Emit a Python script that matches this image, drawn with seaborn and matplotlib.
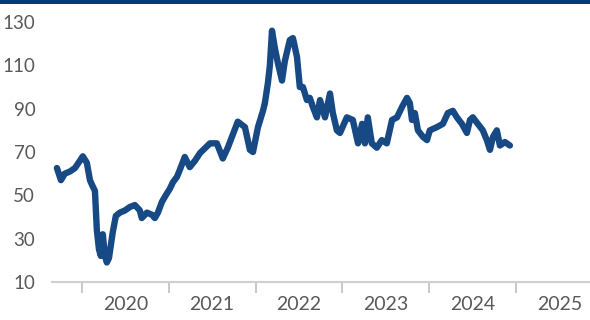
import matplotlib
matplotlib.use("Agg")
import matplotlib.pyplot as plt
from matplotlib.patches import Rectangle
import pandas as pd
import seaborn as sns

dates = [
    "2019-09-18", "2019-10-05", "2019-10-21", "2019-11-12", "2019-12-03", "2019-12-24",
    "2020-01-05", "2020-01-22", "2020-02-04", "2020-02-12", "2020-02-25", "2020-03-04",
    "2020-03-13", "2020-03-21", "2020-03-29", "2020-04-07", "2020-04-15", "2020-04-24",
    "2020-05-02", "2020-05-10", "2020-05-23", "2020-06-09", "2020-06-30", "2020-07-21",
    "2020-08-11", "2020-09-01", "2020-09-09", "2020-10-01", "2020-10-22", "2020-11-03",
    "2020-11-16", "2020-12-03", "2020-12-19", "2021-01-05", "2021-01-18", "2021-02-04",
    "2021-02-16", "2021-03-09", "2021-03-30", "2021-04-21", "2021-05-12", "2021-06-23",
    "2021-07-22", "2021-08-16", "2021-09-06", "2021-10-18", "2021-11-17", "2021-12-08",
    "2021-12-21", "2022-01-11", "2022-02-01", "2022-02-09", "2022-02-22", "2022-03-02",
    "2022-03-11", "2022-03-23", "2022-04-05", "2022-04-22", "2022-05-04", "2022-05-25",
    "2022-06-07", "2022-06-24", "2022-07-06", "2022-07-19", "2022-08-05", "2022-08-17",
    "2022-08-30", "2022-09-16", "2022-09-29", "2022-10-20", "2022-11-10", "2022-11-22",
    "2022-12-09", "2022-12-22", "2023-01-20", "2023-02-14", "2023-03-08", "2023-03-25",
    "2023-04-06", "2023-04-18", "2023-05-05", "2023-05-26", "2023-06-16", "2023-07-07",
    "2023-07-29", "2023-08-19", "2023-09-09", "2023-09-30", "2023-10-12", "2023-10-21",
    "2023-11-02", "2023-11-15", "2023-12-06", "2023-12-23", "2024-01-04", "2024-02-03",
    "2024-02-28", "2024-03-20", "2024-04-10", "2024-04-27", "2024-05-18", "2024-06-08",
    "2024-06-21", "2024-07-03", "2024-07-24", "2024-08-14", "2024-08-31", "2024-09-13",
    "2024-09-26", "2024-10-12", "2024-10-25", "2024-11-15", "2024-12-06",
]
values = [
    62.6, 57.0, 60.0, 61.0, 62.6, 66.0,
    68.0, 65.0, 57.0, 55.0, 52.0, 34.0,
    25.0, 22.0, 32.0, 22.0, 19.0, 21.0,
    27.0, 33.0, 40.5, 42.0, 43.0, 44.6,
    45.5, 43.0, 39.5, 42.0, 41.0, 39.5,
    42.0, 47.0, 50.0, 53.0, 56.0, 58.5,
    61.7, 67.7, 63.0, 66.0, 69.5, 74.0,
    74.0, 67.0, 72.0, 84.0, 81.5, 71.0,
    70.0, 81.5, 89.0, 92.6, 102.0, 110.0,
    126.0, 118.0, 111.0, 103.0, 112.0, 121.7,
    122.6, 114.0, 100.0, 100.0, 94.0, 95.0,
    90.8, 86.0, 94.0, 86.0, 97.0, 88.0,
    80.0, 78.8, 86.0, 84.8, 74.0, 83.0,
    74.0, 86.0, 74.0, 72.0, 75.5, 74.0,
    84.8, 86.0, 90.8, 95.0, 92.6, 84.8,
    88.0, 80.0, 77.0, 75.5, 80.0, 81.5,
    83.0, 88.0, 89.0, 86.0, 83.0, 78.8,
    84.8, 86.0, 83.0, 80.0, 75.5, 71.0,
    77.0, 80.0, 73.0, 74.6, 73.0,
]
year_labels = ["2020", "2021", "2022", "2023", "2024", "2025"]
y_ticks = [10, 30, 50, 70, 90, 110, 130]

df = pd.DataFrame({"date": pd.to_datetime(dates), "value": values})

sns.set_style("white")
plt.rcParams["font.family"] = ["Lato", "DejaVu Sans"]

fig = plt.figure(figsize=(5.9, 3.2), dpi=100)
ax = fig.add_axes([0.088, 0.119, 0.912, 0.812])

sns.lineplot(data=df, x="date", y="value", ax=ax, color="#174A84", linewidth=4.6)

ax.set_ylim(10, 130)
ax.set_yticks(y_ticks)
ax.set_xlim(pd.Timestamp("2019-08-28"), pd.Timestamp("2025-11-08"))

years = [int(y) for y in year_labels]
ax.set_xticks([pd.Timestamp(f"{y}-01-01") for y in years])
ax.set_xticklabels([])
ax.set_xticks([pd.Timestamp(f"{y}-07-02") for y in years], minor=True)
ax.set_xticklabels(year_labels, minor=True)
ax.tick_params(axis="x", which="major", length=8, width=1.2, color="#BFBFBF", direction="out", bottom=True)
ax.tick_params(axis="x", which="minor", length=0, pad=10, labelsize=14, labelcolor="#595959")
ax.tick_params(axis="y", length=0, pad=12, labelsize=13.5, labelcolor="#595959")

for s in ["top", "right", "left"]:
    ax.spines[s].set_visible(False)
ax.spines["bottom"].set_color("#D0D0D0")
ax.spines["bottom"].set_linewidth(1.5)
ax.set_xlabel("")
ax.set_ylabel("")
ax.grid(False)

fig.patches.append(Rectangle((0, 1 - 3.5 / 320), 1, 3.5 / 320, transform=fig.transFigure,
                             facecolor="#003A78", edgecolor="none", zorder=10))

fig.savefig("out.png", dpi=100)
